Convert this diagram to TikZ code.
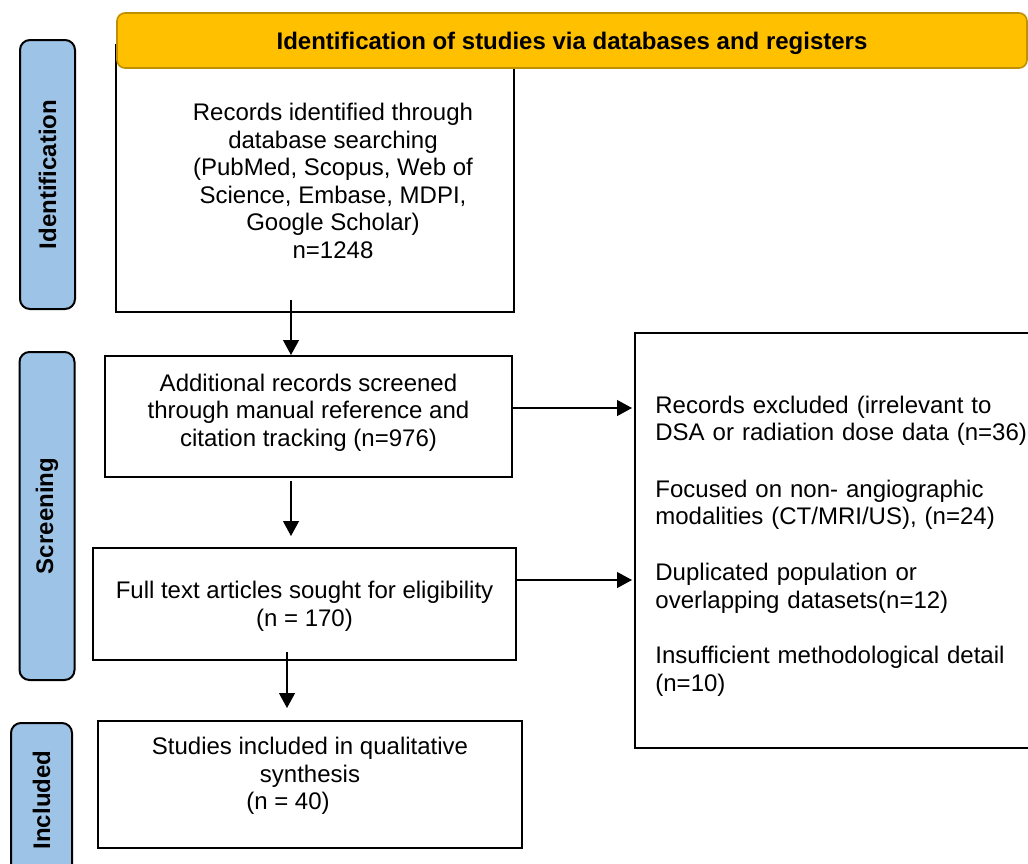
\documentclass[tikz,border=0pt]{standalone}
\usepackage{fontspec}
\setmainfont{Liberation Sans}
\usetikzlibrary{arrows.meta}
\definecolor{bannerfill}{HTML}{FFC000}
\definecolor{bannerline}{HTML}{BF9000}
\definecolor{phasefill}{HTML}{9DC3E6}
\begin{document}
\begin{tikzpicture}[x=0.5pt, y=-0.5pt,
  every node/.style={font=\fontsize{12}{13.8}\selectfont},
  box/.style={draw, line width=1pt, rectangle, inner sep=0pt, align=center},
  phase/.style={draw, line width=1pt, fill=phasefill, rounded corners=5pt, rotate=90,
    minimum height=27.5pt, inner sep=0pt, font=\fontsize{12}{13.8}\selectfont\bfseries},
  arr/.style={-{Triangle[length=7.5pt,width=8pt]}, line width=0.6pt}]
  \useasboundingbox (0,0) rectangle (1028,863);
  \clip (0,0) rectangle (1028,863);

  % Boxes
  \node[box, minimum width=199pt, minimum height=133.5pt] (recs) at (315,178.5) {};
  \node[align=center] (recstxt) at (333,181) {Records identified through\\database searching\\(PubMed, Scopus, Web of\\Science, Embase, MDPI,\\Google Scholar)\\n=1248};
  \node[box, minimum width=203.5pt, minimum height=60.5pt, text depth=6.5pt] (extra) at (308.5,416.5)
    {Additional records screened\\through manual reference and\\citation tracking (n=976)};
  \node[box, minimum width=211.5pt, minimum height=56pt, text depth=0pt] (full) at (304.5,604)
    {Full text articles sought for eligibility\\(n = 170)};
  \node[box, minimum width=212pt, minimum height=63.5pt] (incl) at (310,784.5) {};
  \node[align=center] (incltxt) at (310,776) {Studies included in qualitative\\synthesis\\(n = 40)\hspace*{22pt}};
  \node[box, anchor=west, minimum width=206pt, minimum height=207.5pt] (excl) at (634,540.5) {};
  \node[anchor=west, text width=190pt, inner sep=0pt, align=left] (excltxt) at (655,546)
    {Records excluded (irrelevant to\\DSA or radiation dose data (n=36)\\[14.5pt]
     Focused on non- angiographic\\modalities (CT/MRI/US), (n=24)\\[14pt]
     Duplicated population or\\overlapping datasets(n=12)\\[14pt]
     Insufficient methodological detail\\(n=10)};

  % Banner
  \node[draw=bannerline, fill=bannerfill, line width=0.8pt, rounded corners=4pt,
    minimum width=455pt, minimum height=27.5pt, inner sep=0pt, text depth=0pt,
    font=\fontsize{12}{13.8}\selectfont\bfseries] (banner) at (572,40.5)
    {Identification of studies via databases and registers};

  % Phases
  \node[phase, minimum width=134.5pt] (pid) at (47.5,174.5) {Identification};
  \node[phase, minimum width=164pt] (pscr) at (47,516) {Screening};
  \node[phase, minimum width=77pt, minimum height=30.5pt] (pinc) at (41.5,800) {Included};

  % Wires
  \coordinate (a1) at ([xshift=-12pt,yshift=6.5pt]recs.south);
  \coordinate (a2) at ([xshift=-8.75pt,yshift=-1.5pt]extra.south);
  \coordinate (a3) at ([xshift=-8.75pt,yshift=4.5pt]full.south);
  \coordinate (b1) at ([yshift=4.25pt]extra.east);
  \coordinate (b2) at ([yshift=12pt]full.east);
  \draw[arr] (a1) -- (a1 |- extra.north);
  \draw[arr, shorten >=5.5pt] (a2) -- (a2 |- full.north);
  \draw[arr, shorten >=6pt] (a3) -- (a3 |- incl.north);
  \draw[arr, shorten >=1pt] (b1) -- (b1 -| excl.west);
  \draw[arr, shorten >=1pt] (b2) -- (b2 -| excl.west);
\end{tikzpicture}
\end{document}
